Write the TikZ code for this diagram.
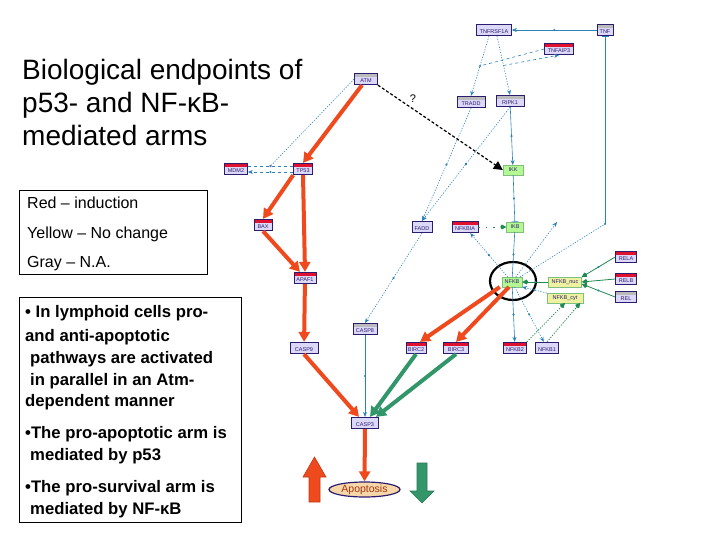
\documentclass[tikz,border=0pt]{standalone}
\usepackage{fontspec}
\setmainfont{Liberation Sans}
\usetikzlibrary{arrows.meta,decorations.markings,shapes.geometric}
\definecolor{navy}{HTML}{2C1C70}
\definecolor{lav}{HTML}{DCD8F8}
\definecolor{rbar}{HTML}{E01030}
\definecolor{ybar}{HTML}{F4F040}
\definecolor{gbar}{HTML}{BBBBBB}
\definecolor{lgreen}{HTML}{B4F894}
\definecolor{lyel}{HTML}{EEF2A0}
\definecolor{redarm}{HTML}{EE4A1E}
\definecolor{greenarm}{HTML}{33966A}
\definecolor{blueln}{HTML}{2A82B8}
\definecolor{greenln}{HTML}{1E8A50}
\definecolor{peach}{HTML}{F8D8A8}
\newcommand\genefont{\fontsize{5.5}{6}\selectfont}

\begin{document}
\begin{tikzpicture}[x=1pt,y=-1pt,
    gene/.style={draw=navy, fill=lav, line width=0.7pt, text=navy,
        font=\genefont, inner xsep=2pt, inner ysep=1pt,
        text height=8pt, text depth=1.5pt,
        path picture={\fill[#1] (path picture bounding box.north west)
            rectangle ([yshift=-4pt]path picture bounding box.north east);}},
    kin/.style={draw=green!50!black!50, fill=lgreen, text=navy, font=\genefont,
        inner sep=1.5pt, text height=5pt, text depth=1.5pt},
    sub/.style={kin, fill=lyel},
    pro/.style={draw=redarm, line width=4pt, -{Triangle[length=10pt,width=11pt]}},
    surv/.style={draw=greenarm, line width=4pt, -{Triangle[length=10pt,width=11pt]}},
    link/.style={draw=blueln, line width=0.6pt, -{Stealth[length=5pt,width=4pt]}},
    weak/.style={link, dash pattern=on 1.2pt off 1.5pt},
    gline/.style={draw=greenln, line width=0.8pt, -{Kite[length=6pt,width=5pt]}},
    mdot/.style={postaction={decorate, decoration={markings,
        mark=at position 0.5 with {\fill[blueln] (0,0) circle (1.2pt);}}}},
    qline/.style={draw=black, line width=1.2pt, dash pattern=on 3pt off 2pt,
        -{Triangle[length=9pt,width=9pt]}},
    body/.style={anchor=base west, inner sep=0pt, font=\fontsize{16.7}{19}\selectfont\bfseries}
]
\useasboundingbox (0,0) rectangle (720,540);

% title and text boxes
\node[anchor=base west, inner sep=0pt, font=\fontsize{28}{33}\selectfont] (t1) at (22,80) {Biological endpoints of};
\node[anchor=base west, inner sep=0pt, font=\fontsize{28}{33}\selectfont] (t2) at (22,113) {p53- and NF-κB-};
\node[anchor=base west, inner sep=0pt, font=\fontsize{28}{33}\selectfont] (t3) at (22,146) {mediated arms};

\draw[line width=0.8pt] (19,190) rectangle (207,274);
\foreach \txt [count=\i] in {Red – induction, Yellow – No change, Gray – N.A.}
    \node[anchor=base west, inner sep=0pt, font=\fontsize{16}{18}\selectfont] (leg\i) at (27,180+29*\i) {\txt};

\draw[line width=0.8pt] (19,297) rectangle (241,522);
\node[body] (b1) at (25,317) {• In lymphoid cells pro-};
\node[body] (b2) at (25,341) {and anti-apoptotic};
\node[body] (b3) at (30,363) {pathways are activated};
\node[body] (b4) at (30,385) {in parallel in an Atm-};
\node[body] (b5) at (25,406) {dependent manner};
\node[body] (b6) at (25,438) {•The pro-apoptotic arm is};
\node[body] (b7) at (30,460) {mediated by p53};
\node[body] (b8) at (25,492) {•The pro-survival arm is};
\node[body] (b9) at (30,514) {mediated by NF-κB};

% genes
\node[gene=ybar, minimum width=35] (tnfr) at (494,30) {TNFRSF1A};
\node[gene=gbar, minimum width=16] (tnf) at (605,30) {TNF};
\node[gene=rbar, minimum width=29] (tnfaip) at (559,49) {TNFAIP3};
\node[gene=gbar, minimum width=28] (tradd) at (471,102) {TRADD};
\node[gene=gbar, minimum width=28] (ripk) at (510,101) {RIPK1};
\node[gene=gbar, minimum width=23] (atm) at (366,79) {ATM};
\node[kin, minimum width=20] (ikk) at (513,170) {IKK};
\node[gene=rbar, minimum width=23] (mdm) at (236,169) {MDM2};
\node[gene=rbar, minimum width=19] (tp) at (303,169) {TP53};
\node[gene=rbar, minimum width=18] (bax) at (263,225) {BAX};
\node[gene=ybar, minimum width=20] (fadd) at (422,227) {FADD};
\node[gene=rbar, minimum width=26] (ikba) at (465,227) {NFKBIA};
\node[kin, minimum width=17] (ikb) at (515,227) {IKB};
\node[kin, minimum width=20] (nfkb) at (512,282) {NFKB};
\node[sub, minimum width=33] (nuc) at (565,282) {NFKB\_nuc};
\node[sub, minimum width=36] (cyt) at (565,298) {NFKB\_cyt};
\node[gene=rbar, minimum width=21] (rela) at (626,257) {RELA};
\node[gene=rbar, minimum width=21] (relb) at (626,279) {RELB};
\node[gene=gbar, minimum width=21] (rel) at (626,297) {REL};
\node[gene=rbar, minimum width=22] (apaf) at (305,278) {APAF1};
\node[gene=gbar, minimum width=24] (casp8) at (365,329) {CASP8};
\node[gene=ybar, minimum width=28] (casp9) at (304,348) {CASP9};
\node[gene=rbar, minimum width=20] (birc2) at (416,348) {BIRC2};
\node[gene=rbar, minimum width=25] (birc3) at (456,348) {BIRC3};
\node[gene=rbar, minimum width=23] (nfkb2) at (515,348) {NFKB2};
\node[gene=ybar, minimum width=23] (nfkb1) at (547,348) {NFKB1};
\node[gene=ybar, minimum width=27] (casp3) at (365,423) {CASP3};
\node[ellipse, draw=navy, fill=peach, line width=1.2pt, minimum width=71, minimum height=15,
    inner sep=0pt, text=redarm!70!black, font=\fontsize{10.5}{11}\selectfont] (apo) at (364.5,489.5) {Apoptosis};
\node[ellipse, draw=black, line width=2.2pt, minimum width=46, minimum height=38] (ring) at (513,281) {};
\coordinate (tnfbend) at (605,224);
\coordinate (aipin) at (557,222);

% signalling (thin)
\draw[link, mdot] (tnf) -- (tnfr);
\draw[draw=blueln, line width=0.6pt, -{Bar[width=7pt]}] (tnfbend) -- (tnf);
\fill[blueln] (tnfbend) circle (1.2pt);
\draw[weak, -] (nfkb) -- (tnfbend);
\draw[weak] (nfkb) -- (aipin);
\draw[weak] ([xshift=-5pt]tnfr.south) -- coordinate[pos=0.5] (tr1) (tradd.north);
\draw[weak] ([xshift=3pt]tnfr.south) -- coordinate[pos=0.5] (rp1) (ripk.north);
\draw[draw=blueln, line width=0.6pt, dashed] (tnfaip.west) -- (tr1);
\fill[blueln] (tr1) circle (1.2pt);
\draw[link, dashed] (rp1) -- (tnfaip.south);
\draw[link, mdot] (ripk) -- (ikk);
\draw[draw=blueln, line width=0.6pt, mdot, -{Bar[width=7pt]}] (ikk) -- (ikb);
\draw[draw=blueln, line width=0.6pt, mdot] (ikb) -- (nfkb);
\draw[link, mdot] (nfkb) -- (nfkb2);
\draw[weak, mdot] (nfkb) -- (nfkb1);
\draw[weak, mdot] (nfkb) -- (ikba);
\draw[weak, mdot] (cyt.north west) -- (nfkb.south east);
\draw[weak, mdot] (tradd.south) -- (fadd.north);
\draw[weak, mdot] (ripk.south) -- (fadd.north);
\draw[weak, mdot] (fadd.south) -- (casp8.north);
\draw[link, mdot] (casp8) -- (casp3);
\draw[draw=blueln, line width=0.6pt, dashed] ([yshift=3pt]tp.west) -- coordinate[pos=0.5] (md1) ([yshift=3pt]mdm.east);
\draw[link, dashed, mdot] ([yshift=-3pt]tp.west) -- ([yshift=-3pt]mdm.east);
\fill[navy!60] (md1) circle (1.3pt);
\draw[weak, -] (atm.west) -- (md1);

% NF-kB side (green)
\draw[gline, dash pattern=on 1.5pt off 6pt] (ikba.east) -- (ikb.west);
\draw[gline, mdot] (rela.west) -- (nuc.north east);
\draw[gline] (relb.west) -- (nuc.east);
\draw[gline, mdot] (rel.west) -- ([yshift=-2pt]nuc.east);
\draw[gline, mdot] (nuc.west) -- (nfkb.east);
\draw[gline, dash pattern=on 1.2pt off 1.5pt] (nfkb2.north east) -- (cyt.south);
\draw[gline, dash pattern=on 1.2pt off 1.5pt] (nfkb1.north) -- ([xshift=-3pt]cyt.south east);

% ATM to IKK, unknown
\draw[qline] (atm.south east) -- (ikk.west) node[pos=0.28, above=2pt, font=\fontsize{11}{12}\selectfont] (q) {?};

% pro-apoptotic arm
\draw[pro] ([xshift=-4pt]atm.south) -- (tp.north);
\draw[pro] (tp.south west) -- (bax.north);
\draw[pro] (tp.south) -- (apaf.north);
\draw[pro] (bax.south) -- ([xshift=-5pt]apaf.north);
\draw[pro] (apaf) -- (casp9);
\draw[pro] (casp9.south) -- ([xshift=-6pt]casp3.north);
\draw[pro] (casp3) -- (apo);
\draw[pro] ([xshift=-2pt]nfkb.south west) -- ([xshift=4pt]birc2.north);
\draw[pro] ([xshift=-3pt]nfkb.south) -- (birc3.north);

% pro-survival arm
\draw[surv] (birc2.south) -- ([xshift=5pt]casp3.north);
\draw[surv] (birc3.south) -- ([xshift=11pt]casp3.north);

% up / down block arrows
\draw[fill=redarm, draw=redarm!80!black, line width=0.6pt]
    (309,502) -- (309,477) -- (303,477) -- (314.5,457) -- (326,477) -- (320,477) -- (320,502) -- cycle;
\draw[fill=greenarm, draw=greenarm!80!black, line width=0.6pt]
    (417,463) -- (427,463) -- (427,491) -- (434,491) -- (422,503) -- (410,491) -- (417,491) -- cycle;
\end{tikzpicture}
\end{document}
